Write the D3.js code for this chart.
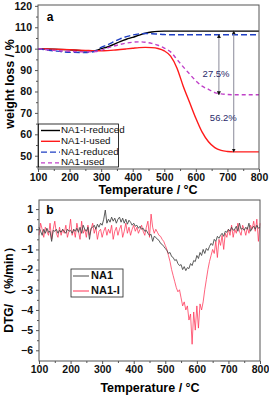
<!DOCTYPE html>
<html>
<head>
<meta charset="utf-8">
<script src="https://cdn.jsdelivr.net/npm/d3@7"></script>
<style>
  body { margin: 0; background: #fff; }
  svg { display: block; font-family: "Liberation Sans", Arial, sans-serif; }
</style>
</head>
<body>
<svg id="chart" width="269" height="396"></svg>
<script>
// ---- panel a: TG curves ----
const tgTemps = [100,150,200,250,280,300,320,340,360,380,400,420,440,460,480,500,520,540,560,580,600,620,640,660,680,700,720,750,800];
const niReduced = [100,99.8,99.5,99.0,99.0,100.0,100.8,102.0,103.3,104.4,105.3,106.3,107.2,107.8,108.1,108.2,108.2,108.2,108.2,108.2,108.2,108.2,108.2,108.2,108.2,108.2,108.2,108.2,108.2];
const niUsed    = [100,99.8,99.5,99.2,99.0,99.0,99.1,99.3,99.6,99.9,100.2,100.5,100.6,100.5,100.1,99.0,96.5,91.0,82.5,75.0,67.5,61.0,56.5,53.8,52.5,52.0,51.8,51.8,51.8];
const naReduced = [100,99.0,98.3,98.2,98.8,100.6,101.8,103.2,104.6,105.6,106.4,106.9,107.1,107.0,106.8,106.6,106.5,106.5,106.5,106.5,106.5,106.5,106.5,106.5,106.5,106.5,106.5,106.5,106.5];
const naUsed    = [100,99.2,98.8,98.5,98.6,99.2,100.3,101.2,102.0,102.6,103.0,103.2,103.0,102.5,101.6,100.3,98.5,95.0,91.5,88.2,85.0,82.5,81.0,79.5,78.9,78.6,78.5,78.5,78.5];
const tgNames = ["NA1-I-reduced","NA1-I-used","NA1-reduced","NA1-used"];
const tgSeries = [niReduced, niUsed, naReduced, naUsed];
const tgColors = ["#000000","#ff1a1a","#1f3fc4","#c040c8"];
const tgDash = [null, null, "6,3", "4,3"];
const annTemps = [673, 720];
const annTop = [106.5, 108.2];
const annBottom = [78.5, 51.8];
const annLabels = ["27.5%", "56.2%"];
const annLabelPos = [[664, 88], [687, 67.6]];

// ---- panel b: DTG curves (every 5 °C from 100 to 800) ----
const dtgTemps = d3.range(100, 801, 5);
const dtgNA1 = [
  0.1,-0.1,-0.3,0.0,-0.2,0.05,-0.15,-0.1,-0.6,-0.05,
  -0.1,0.0,-0.2,-0.05,-0.15,0.0,-0.1,-0.2,0.0,-0.1,
  -0.05,-0.2,0.0,-0.1,0.05,-0.15,0.1,-0.2,0.2,0.0,
  -0.1,0.1,-0.5,0.05,0.1,0.2,0.0,0.25,0.1,0.3,
  0.2,0.5,0.95,0.3,0.5,0.35,0.6,0.4,0.55,0.3,
  0.5,0.6,0.35,0.55,0.3,0.5,0.25,0.45,0.35,0.2,
  0.3,0.15,0.2,0.05,0.15,0.0,0.05,-0.1,-0.05,-0.2,
  -0.3,-0.25,-0.6,-0.35,-0.4,-0.5,-0.55,-0.7,-0.75,-0.85,
  -0.95,-1.05,-1.2,-1.15,-1.35,-1.4,-1.55,-1.5,-1.7,-1.8,
  -1.75,-2.0,-1.85,-2.05,-1.9,-1.95,-1.7,-1.8,-1.55,-1.6,
  -1.3,-1.45,-1.15,-1.3,-1.0,-1.2,-0.95,-1.05,-0.85,-0.7,
  -0.8,-0.5,-0.6,-0.35,-0.45,-0.3,-0.2,-0.35,-0.1,-0.15,
  0.0,-0.1,0.1,-0.05,0.0,0.15,-0.1,0.3,0.0,0.05,
  -0.05,0.1,0.0,0.3,-0.1,0.05,0.15,0.0,0.2,0.05,
  0.1];
const dtgNA1I = [
  -0.3,0.3,0.0,-0.4,0.1,-0.1,-0.3,0.3,-0.5,0.0,
  0.4,-0.2,-0.4,0.1,-0.3,0.0,-0.2,0.2,-0.4,-0.1,
  0.5,-0.3,0.0,-0.4,0.3,-0.1,-0.5,0.4,-0.2,0.0,
  -0.4,0.2,-0.3,0.0,0.3,-0.2,0.1,-0.5,-0.1,0.0,
  -0.4,-0.1,0.1,-0.3,0.0,-0.2,0.2,-0.5,-0.1,0.1,
  -0.3,0.0,0.2,-0.4,-0.1,0.3,-0.2,0.1,-0.3,0.0,
  0.2,-0.1,0.1,-0.2,0.0,0.2,-0.1,-0.3,0.1,0.4,
  -0.4,0.75,0.1,-0.2,0.0,-0.15,-0.3,-0.35,-0.5,-0.6,
  -0.8,-1.0,-1.3,-1.6,-2.0,-2.3,-2.6,-2.9,-3.1,-3.0,
  -3.4,-3.8,-3.6,-4.0,-3.8,-4.5,-4.2,-5.7,-4.1,-5.0,
  -3.8,-4.9,-3.7,-4.0,-3.6,-3.0,-2.5,-2.0,-1.6,-1.3,
  -1.0,-1.2,-0.6,-1.4,-0.5,-0.8,-0.3,-1.0,-0.2,-0.4,
  0.0,-0.3,0.2,-0.4,0.0,-0.2,0.3,-0.1,-0.3,0.2,
  0.0,-0.3,0.1,-0.2,0.2,0.0,0.4,-0.1,0.5,-0.6,
  0.3];
const dtgNames = ["NA1","NA1-I"];
const dtgSeries = [dtgNA1, dtgNA1I];
const dtgColors = ["#4a4a4a","#ff3355"];

const xTicks = [100,200,300,400,500,600,700,800];
const yTicksA = [50,60,70,80,90,100,110,120];
const yTicksB = [-6,-5,-4,-3,-2,-1,0,1];

const svg = d3.select("#chart");
const frameColor = "#555";

function drawAxes(g, x, y, yTicks, yMinor) {
  const [x0, x1] = x.range();
  const [y1, y0] = y.range();
  // minor ticks
  g.append("g").attr("transform", `translate(0,${y1})`)
    .call(d3.axisBottom(x).tickValues(d3.range(150, 800, 100)).tickSize(2).tickFormat("").tickSizeOuter(0))
    .call(a => a.select(".domain").remove())
    .call(a => a.selectAll("line").attr("stroke", frameColor));
  g.append("g").attr("transform", `translate(${x0},0)`)
    .call(d3.axisLeft(y).tickValues(yMinor).tickSize(2).tickFormat("").tickSizeOuter(0))
    .call(a => a.select(".domain").remove())
    .call(a => a.selectAll("line").attr("stroke", frameColor));
  // major ticks
  g.append("g").attr("transform", `translate(0,${y1})`)
    .call(d3.axisBottom(x).tickValues(xTicks).tickSize(3).tickPadding(1.5).tickSizeOuter(0))
    .call(a => a.select(".domain").remove())
    .call(a => a.selectAll("line").attr("stroke", frameColor))
    .call(a => a.selectAll("text").attr("font-size", 10.5).attr("font-weight", "bold")
      .attr("fill", "#111").attr("font-family", "Liberation Sans, Arial, sans-serif"));
  g.append("g").attr("transform", `translate(${x0},0)`)
    .call(d3.axisLeft(y).tickValues(yTicks).tickSize(3).tickPadding(3).tickSizeOuter(0))
    .call(a => a.select(".domain").remove())
    .call(a => a.selectAll("line").attr("stroke", frameColor))
    .call(a => a.selectAll("text").attr("font-size", 10.5).attr("font-weight", "bold")
      .attr("fill", "#111").attr("font-family", "Liberation Sans, Arial, sans-serif"));
  // frame
  g.append("rect").attr("x", x0).attr("y", y0).attr("width", x1 - x0).attr("height", y1 - y0)
    .attr("fill", "none").attr("stroke", frameColor).attr("stroke-width", 1);
}

// ===== Panel a =====
const xa = d3.scaleLinear().domain([100, 800]).range([38, 259]);
const ya = d3.scaleLinear().domain([43.8, 120.4]).range([169, 5]);
const ga = svg.append("g");

const lineA = (vals) => d3.line().curve(d3.curveMonotoneX)
  .x((d, i) => xa(tgTemps[i])).y(d => ya(d))(vals);

tgSeries.forEach((s, i) => {
  ga.append("path").attr("d", lineA(s)).attr("fill", "none")
    .attr("stroke", tgColors[i]).attr("stroke-width", 1.4)
    .attr("stroke-dasharray", tgDash[i]);
});

// annotation arrows
const defs = svg.append("defs");
defs.append("marker").attr("id", "ah").attr("viewBox", "0 0 6 6").attr("refX", 5).attr("refY", 3)
  .attr("markerWidth", 4).attr("markerHeight", 4).attr("orient", "auto-start-reverse")
  .append("path").attr("d", "M0,0L6,3L0,6Z").attr("fill", "#111");
annTemps.forEach((t, i) => {
  ga.append("line").attr("x1", xa(t)).attr("x2", xa(t))
    .attr("y1", ya(annTop[i])).attr("y2", ya(annBottom[i]))
    .attr("stroke", "#8a8a9a").attr("stroke-width", 1)
    .attr("marker-start", "url(#ah)").attr("marker-end", "url(#ah)");
  ga.append("text").attr("x", xa(annLabelPos[i][0])).attr("y", ya(annLabelPos[i][1]))
    .attr("text-anchor", "middle").attr("dominant-baseline", "middle")
    .attr("font-size", 9.5).attr("fill", "#2a2a6a").text(annLabels[i]);
});

drawAxes(ga, xa, ya, yTicksA, d3.range(45, 120, 10));

ga.append("text").attr("x", 50).attr("y", 21).attr("text-anchor", "middle")
  .attr("font-size", 12).attr("font-weight", "bold").text("a");
ga.append("text").attr("x", 148).attr("y", 193.5).attr("text-anchor", "middle")
  .attr("font-size", 12.5).attr("font-weight", "bold").text("Temperature / \u00B0C");
ga.append("text").attr("transform", "translate(14,84) rotate(-90)").attr("text-anchor", "middle")
  .attr("font-size", 12.5).attr("font-weight", "bold").text("weight loss / %");

// legend a
const la = ga.append("g");
la.append("rect").attr("x", 38.5).attr("y", 124).attr("width", 80).attr("height", 43)
  .attr("fill", "#fff").attr("stroke", "#000").attr("stroke-width", 0.8);
tgNames.forEach((n, i) => {
  const yy = 130.5 + i * 10.8;
  la.append("line").attr("x1", 41).attr("x2", 60).attr("y1", yy).attr("y2", yy)
    .attr("stroke", tgColors[i]).attr("stroke-width", 1.4).attr("stroke-dasharray", tgDash[i]);
  la.append("text").attr("x", 61).attr("y", yy).attr("dominant-baseline", "middle")
    .attr("font-size", 9.8).attr("fill", "#111").text(n);
});

// ===== Panel b =====
const xb = d3.scaleLinear().domain([100, 800]).range([39, 260]);
const yb = d3.scaleLinear().domain([-6.53, 1.45]).range([361, 200]);
const gb = svg.append("g");

const lineB = (vals) => d3.line().x((d, i) => xb(dtgTemps[i])).y(d => yb(d))(vals);
[1, 0].forEach(i => {
  gb.append("path").attr("d", lineB(dtgSeries[i])).attr("fill", "none")
    .attr("stroke", dtgColors[i]).attr("stroke-width", 0.9).attr("stroke-opacity", i === 1 ? 0.85 : 1);
});

drawAxes(gb, xb, yb, yTicksB, d3.range(-5.5, 1.4, 1));

gb.append("text").attr("x", 50).attr("y", 214).attr("text-anchor", "middle")
  .attr("font-size", 12).attr("font-weight", "bold").text("b");
gb.append("text").attr("x", 150).attr("y", 392).attr("text-anchor", "middle")
  .attr("font-size", 12.5).attr("font-weight", "bold").text("Temperature / \u00B0C");
gb.append("text").attr("transform", "translate(13,287) rotate(-90)").attr("text-anchor", "middle")
  .attr("font-size", 12).attr("font-weight", "bold").text("DTG/ \uFF08%/min\uFF09");

// legend b
const lb = gb.append("g");
lb.append("rect").attr("x", 71).attr("y", 269).attr("width", 52).attr("height", 28)
  .attr("fill", "#fff").attr("stroke", "#222").attr("stroke-width", 0.8);
dtgNames.forEach((n, i) => {
  const yy = 276 + i * 15;
  lb.append("line").attr("x1", 73).attr("x2", 89).attr("y1", yy).attr("y2", yy)
    .attr("stroke", dtgColors[i]).attr("stroke-width", 1);
  lb.append("text").attr("x", 91).attr("y", yy).attr("dominant-baseline", "middle")
    .attr("font-size", 11).attr("font-weight", "bold").attr("fill", "#111").text(n);
});
</script>
</body>
</html>
